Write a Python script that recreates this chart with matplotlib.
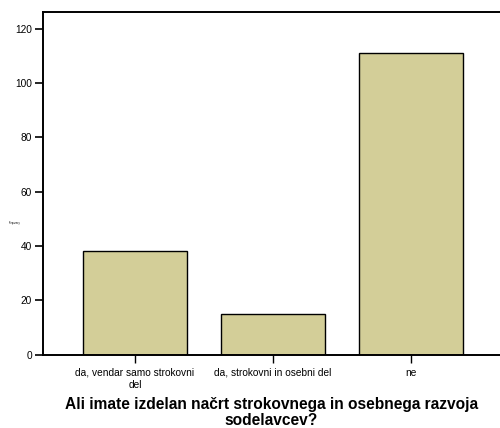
import matplotlib
matplotlib.use("Agg")
import matplotlib.pyplot as plt

plt.rcParams['font.family'] = ['Liberation Sans', 'DejaVu Sans']

# answer categories and counts
categories = ['da, vendar samo strokovni\ndel', 'da, strokovni in osebni del', 'ne']
counts = [38, 15, 111]
yticks = [0, 20, 40, 60, 80, 100, 120]

fig = plt.figure(figsize=(5.0, 4.28), dpi=100)
ax = fig.add_axes([0.086, 0.1713, 0.914, 0.8007])

pos = list(range(len(categories)))
ax.bar(pos, counts, width=0.75, color='#d3ce98', edgecolor='black', linewidth=1.0, zorder=2)

ax.set_xlim(-0.667, 2.645)
ax.set_ylim(0, 126.2)
ax.set_yticks(yticks)
ax.set_xticks(pos)
ax.set_xticklabels(categories, fontsize=7.3, linespacing=1.3)
ax.tick_params(axis='y', labelsize=7.3, length=5.8, width=1.2, direction='out', pad=2)
ax.tick_params(axis='x', length=5.8, width=1.0, direction='out', pad=3.5)

for s in ['left', 'bottom', 'top']:
    ax.spines[s].set_linewidth(1.4)
ax.spines['right'].set_visible(False)

ax.set_xlabel('Ali imate izdelan načrt strokovnega in osebnega razvoja\nsodelavcev?',
              fontsize=11.2, fontweight='bold', labelpad=5, linespacing=1.1)
fig.text(0.03, 0.48, 'Frequency', fontsize=1.8, ha='center', va='center')

fig.savefig('out.png', dpi=100)
